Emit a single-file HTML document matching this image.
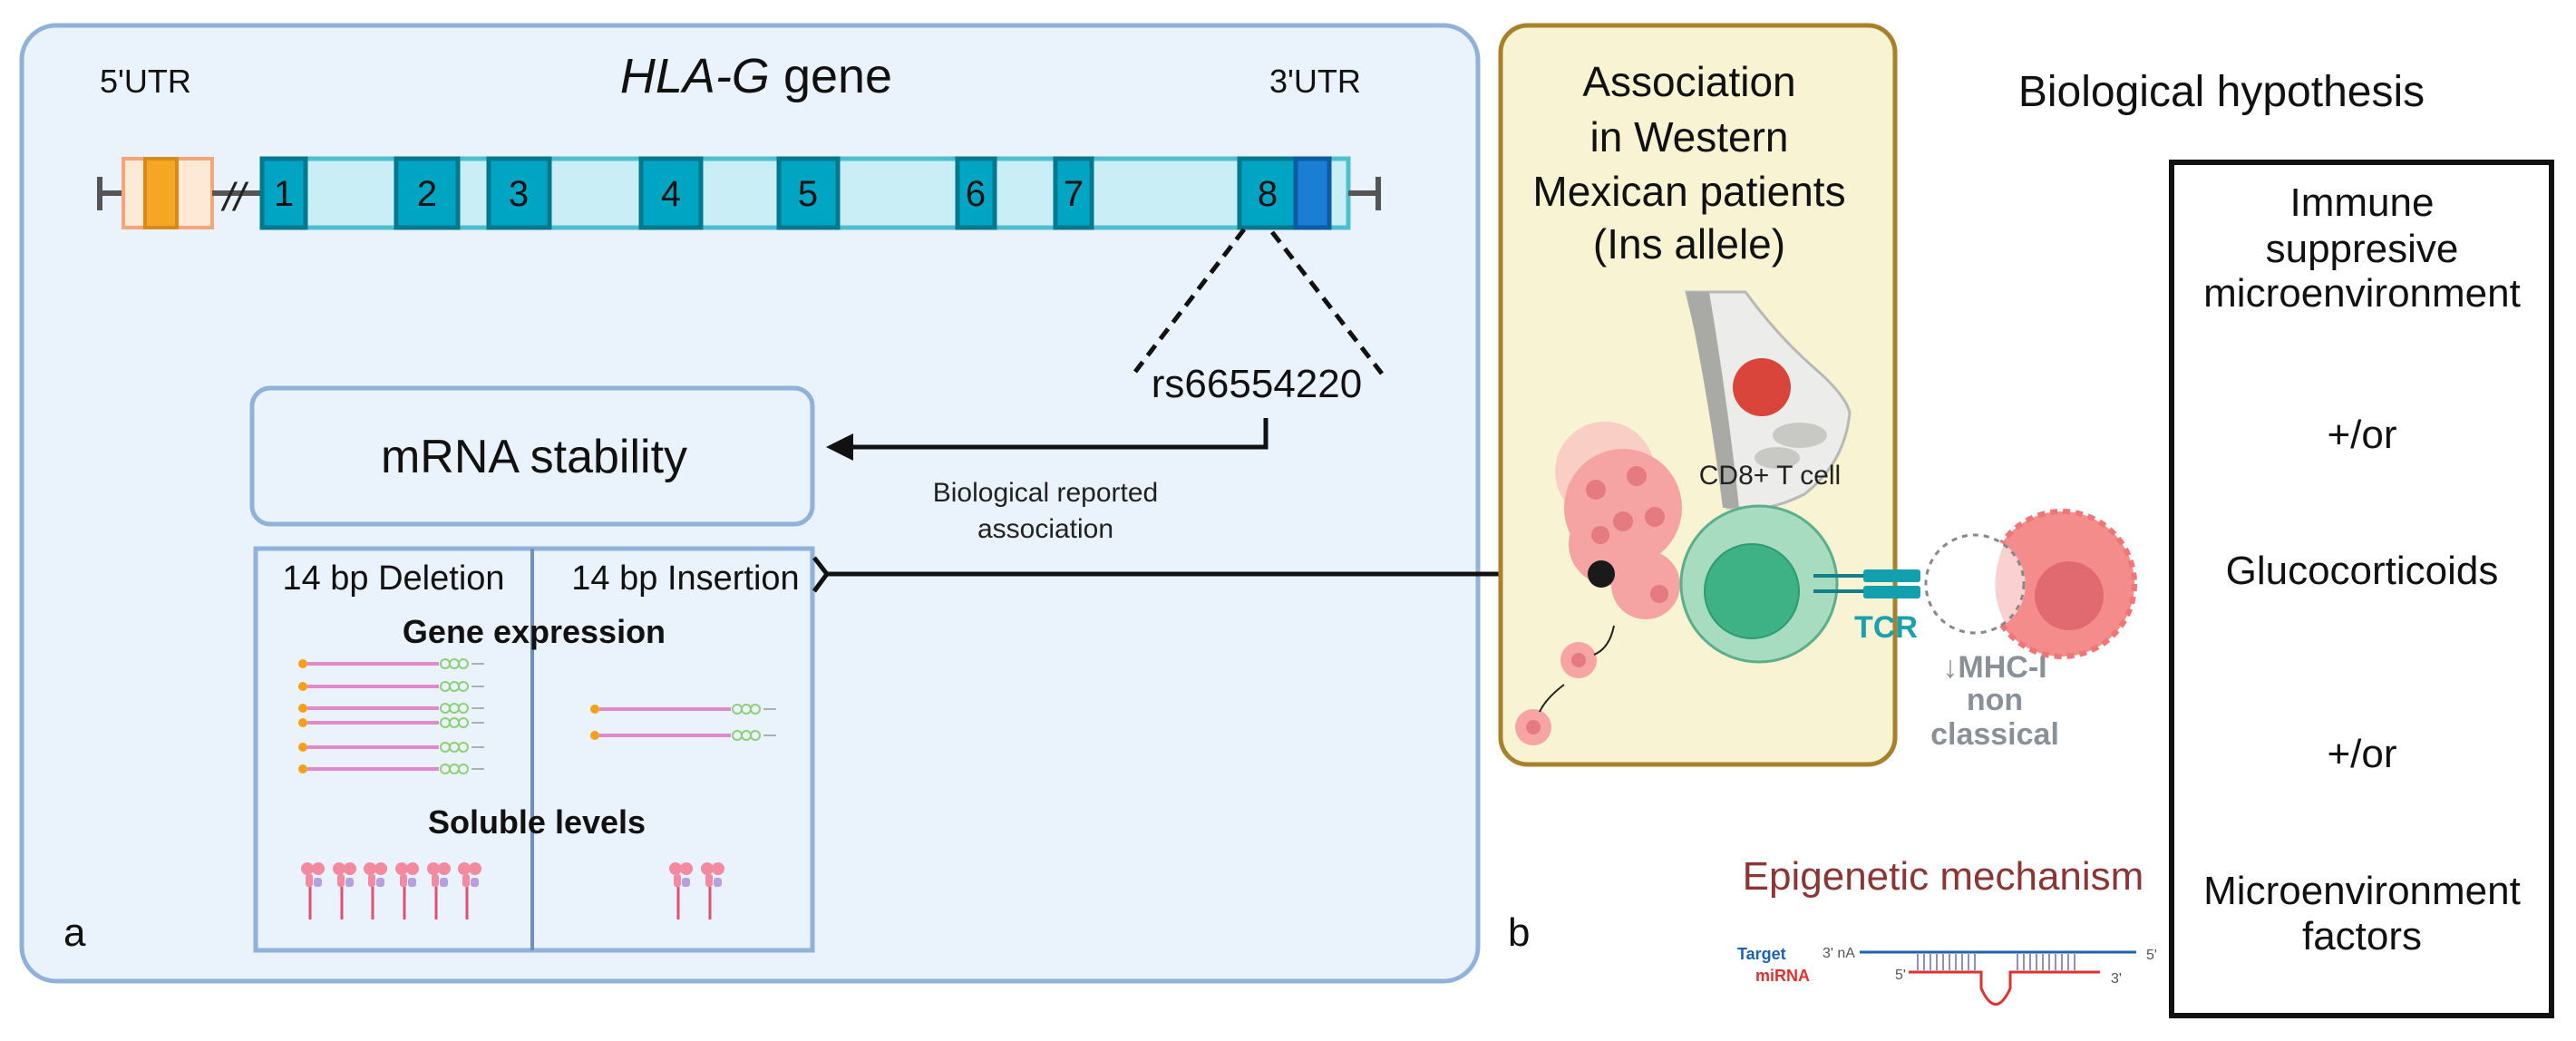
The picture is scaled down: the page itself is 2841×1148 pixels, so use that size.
<!DOCTYPE html>
<html><head><meta charset="utf-8"><style>html,body{margin:0;padding:0;background:#fff}svg{display:block}</style></head>
<body>
<svg xmlns="http://www.w3.org/2000/svg" width="2841" height="1148" viewBox="0 0 2841 1148" font-family="Liberation Sans, sans-serif">
<defs>
<g id="mr">
  <circle cx="0" cy="0" r="5" fill="#f5a01a"/>
  <line x1="5" y1="0" x2="150" y2="0" stroke="#e08acb" stroke-width="4"/>
  <circle cx="157" cy="0" r="5" fill="none" stroke="#8ecf7a" stroke-width="2"/>
  <circle cx="167" cy="0" r="5" fill="none" stroke="#8ecf7a" stroke-width="2"/>
  <circle cx="177" cy="0" r="5" fill="none" stroke="#8ecf7a" stroke-width="2"/>
  <line x1="186" y1="0" x2="200" y2="0" stroke="#999" stroke-width="1.5"/>
</g>
<g id="pr">
  <circle cx="-6" cy="0" r="7" fill="#f28aa0"/>
  <circle cx="6" cy="0" r="7" fill="#f28aa0"/>
  <rect x="-8" y="6" width="8" height="14" rx="3" fill="#f28aa0"/>
  <rect x="1" y="10" width="9" height="10" rx="3" fill="#b8a0e0"/>
  <line x1="-3" y1="20" x2="-3" y2="56" stroke="#e05070" stroke-width="3"/>
</g>
<g id="pc">
  <circle r="20" fill="#f7a4a4"/>
  <circle r="8" fill="#e57a80"/>
</g>
</defs>

<!-- Panel a -->
<rect x="24" y="28" width="1606" height="1054" rx="38" fill="#eaf2fb" stroke="#8fb1da" stroke-width="5"/>
<text x="110" y="102" font-size="36" fill="#111">5'UTR</text>
<text x="834" y="102" font-size="54" text-anchor="middle" fill="#111"><tspan font-style="italic">HLA-G</tspan> gene</text>
<text x="1400" y="102" font-size="36" fill="#111">3'UTR</text>

<!-- gene -->
<line x1="110" y1="213" x2="136" y2="213" stroke="#555" stroke-width="6"/>
<line x1="110" y1="195" x2="110" y2="232" stroke="#555" stroke-width="6"/>
<rect x="136" y="175" width="98" height="76" fill="#fde9d6" stroke="#f6a57b" stroke-width="4"/>
<rect x="160" y="175" width="35" height="76" fill="#f5a623" stroke="#d9881a" stroke-width="4"/>
<line x1="234" y1="213" x2="289" y2="213" stroke="#555" stroke-width="6"/>
<text x="246" y="232" font-size="44" fill="#222" font-style="italic">//</text>
<rect x="289" y="175" width="1198" height="76" fill="#c9eef5" stroke="#4fbfcf" stroke-width="5"/>
<g fill="#00a5c4" stroke="#00798f" stroke-width="5">
<rect x="289" y="175" width="48" height="76"/>
<rect x="437" y="175" width="68" height="76"/>
<rect x="539" y="175" width="67" height="76"/>
<rect x="707" y="175" width="66" height="76"/>
<rect x="859" y="175" width="65" height="76"/>
<rect x="1056" y="175" width="41" height="76"/>
<rect x="1164" y="175" width="40" height="76"/>
<rect x="1367" y="175" width="62" height="76"/>
</g>
<rect x="1429" y="175" width="37" height="76" fill="#1a7fd4" stroke="#0d5ba0" stroke-width="5"/>
<g font-size="40" fill="#111" text-anchor="middle">
<text x="313" y="227">1</text><text x="471" y="227">2</text><text x="572" y="227">3</text>
<text x="740" y="227">4</text><text x="891" y="227">5</text><text x="1076" y="227">6</text>
<text x="1184" y="227">7</text><text x="1398" y="227">8</text>
</g>
<line x1="1487" y1="213" x2="1520" y2="213" stroke="#555" stroke-width="6"/>
<line x1="1520" y1="195" x2="1520" y2="232" stroke="#555" stroke-width="6"/>

<!-- dashed -->
<line x1="1372" y1="253" x2="1252" y2="410" stroke="#111" stroke-width="5" stroke-dasharray="14,9"/>
<line x1="1403" y1="256" x2="1524" y2="412" stroke="#111" stroke-width="5" stroke-dasharray="14,9"/>
<text x="1386" y="438" font-size="44" text-anchor="middle" fill="#111">rs66554220</text>

<!-- arrow to mRNA -->
<polyline points="1396,461 1396,493 935,493" fill="none" stroke="#111" stroke-width="5"/>
<polygon points="911,493 941,478 941,508" fill="#111"/>

<rect x="278" y="428" width="618" height="150" rx="20" fill="#eaf2fb" stroke="#8fb1da" stroke-width="5"/>
<text x="589" y="521" font-size="52" text-anchor="middle" fill="#111">mRNA stability</text>
<text x="1153" y="553" font-size="30" text-anchor="middle" fill="#222">Biological reported</text>
<text x="1153" y="593" font-size="30" text-anchor="middle" fill="#222">association</text>

<!-- bottom box -->
<rect x="282" y="605" width="614" height="443" fill="#eaf2fb" stroke="#8fb1da" stroke-width="5"/>
<line x1="587" y1="605" x2="587" y2="1048" stroke="#6f8fbf" stroke-width="4"/>
<text x="434" y="650" font-size="38" text-anchor="middle" fill="#111">14 bp Deletion</text>
<text x="756" y="650" font-size="38" text-anchor="middle" fill="#111">14 bp Insertion</text>
<polyline points="898,615 912,633 898,652" fill="none" stroke="#111" stroke-width="5"/>
<line x1="912" y1="633" x2="1766" y2="633" stroke="#111" stroke-width="5"/>
<text x="589" y="709" font-size="36" font-weight="bold" text-anchor="middle" fill="#111">Gene expression</text>
<use href="#mr" x="334" y="732"/><use href="#mr" x="334" y="757"/><use href="#mr" x="334" y="781"/>
<use href="#mr" x="334" y="797"/><use href="#mr" x="334" y="824"/><use href="#mr" x="334" y="848"/>
<use href="#mr" x="656" y="782"/><use href="#mr" x="656" y="811"/>
<text x="592" y="919" font-size="36" font-weight="bold" text-anchor="middle" fill="#111">Soluble levels</text>
<use href="#pr" x="345" y="958"/><use href="#pr" x="380" y="958"/><use href="#pr" x="414" y="958"/>
<use href="#pr" x="449" y="958"/><use href="#pr" x="484" y="958"/><use href="#pr" x="518" y="958"/>
<use href="#pr" x="751" y="958"/><use href="#pr" x="786" y="958"/>
<text x="70" y="1043" font-size="44" fill="#111">a</text>

<!-- Panel b yellow -->
<rect x="1655" y="28" width="435" height="815" rx="30" fill="#f7f3d3" stroke="#a8822a" stroke-width="5"/>
<g font-size="46" text-anchor="middle" fill="#111">
<text x="1863" y="106">Association</text>
<text x="1863" y="167">in Western</text>
<text x="1863" y="227">Mexican patients</text>
<text x="1863" y="285">(Ins allele)</text>
</g>
<!-- breast -->
<path d="M1860,322 L1925,322 Q1960,370 2000,405 Q2035,435 2040,455 Q2035,510 1990,545 Q1950,565 1920,560 L1905,560 Q1890,440 1860,322Z" fill="#ececea" stroke="#b8b8b4" stroke-width="3"/>
<path d="M1860,322 L1885,322 Q1905,440 1918,560 L1900,560 Q1885,440 1860,322Z" fill="#a9a9a6"/>
<ellipse cx="1985" cy="480" rx="30" ry="14" fill="#c8c8c4"/>
<ellipse cx="1960" cy="505" rx="25" ry="12" fill="#c8c8c4"/>
<circle cx="1943" cy="427" r="32" fill="#d9453a"/>
<text x="1952" y="534" font-size="30" text-anchor="middle" fill="#222">CD8+ T cell</text>
<!-- cluster -->
<g>
<circle cx="1770" cy="520" r="55" fill="#f9c4c0" opacity="0.8"/>
<circle cx="1790" cy="560" r="65" fill="#f5a3a3"/>
<circle cx="1775" cy="600" r="45" fill="#f5a3a3"/>
<circle cx="1815" cy="645" r="38" fill="#f5a3a3"/>
<circle cx="1760" cy="540" r="11" fill="#e57a80"/><circle cx="1805" cy="525" r="11" fill="#e57a80"/>
<circle cx="1790" cy="575" r="11" fill="#e57a80"/><circle cx="1825" cy="570" r="11" fill="#e57a80"/>
<circle cx="1765" cy="590" r="10" fill="#e57a80"/>
<circle cx="1830" cy="655" r="10" fill="#e57a80"/>
</g>
<use href="#pc" x="1741" y="728"/><use href="#pc" x="1691" y="802"/>
<path d="M1780,690 Q1775,715 1758,722" fill="none" stroke="#222" stroke-width="2"/>
<path d="M1725,755 Q1705,770 1698,785" fill="none" stroke="#222" stroke-width="2"/>
<circle cx="1766" cy="633" r="15" fill="#1a1a1a"/>
<!-- T cell -->
<circle cx="1940" cy="644" r="86" fill="#a8dcc0" stroke="#5cae8a" stroke-width="3"/>
<circle cx="1932" cy="652" r="52" fill="#3fb285" stroke="#2e9a70" stroke-width="2"/>
<line x1="2000" y1="635" x2="2060" y2="635" stroke="#137f8a" stroke-width="4"/>
<line x1="2000" y1="652" x2="2060" y2="652" stroke="#137f8a" stroke-width="4"/>
<rect x="2055" y="628" width="63" height="14" rx="3" fill="#129fae"/>
<rect x="2055" y="646" width="63" height="14" rx="3" fill="#129fae"/>
<text x="2080" y="703" font-size="34" font-weight="bold" text-anchor="middle" fill="#1aa0b0">TCR</text>
<!-- cancer cell -->
<circle cx="2274" cy="644" r="80" fill="#f58c8c" stroke="#ef7676" stroke-width="6" stroke-dasharray="8,6"/>
<circle cx="2178" cy="644" r="54" fill="#ffffff"/>
<path d="M2210,600 A54,54 0 0 1 2212,688 Q2190,650 2210,600Z" fill="#fbd0d0"/>
<circle cx="2178" cy="644" r="54" fill="none" stroke="#888" stroke-width="3" stroke-dasharray="6,6"/>
<circle cx="2282" cy="657" r="38" fill="#e06a70"/>
<g font-size="34" font-weight="bold" text-anchor="middle" fill="#8a9098">
<text x="2200" y="747">↓MHC-I</text><text x="2200" y="783">non</text><text x="2200" y="821">classical</text>
</g>
<text x="1663" y="1043" font-size="44" fill="#111">b</text>

<!-- right -->
<text x="2450" y="117" font-size="48" text-anchor="middle" fill="#111">Biological hypothesis</text>
<rect x="2395" y="179" width="419" height="941" fill="#fff" stroke="#111" stroke-width="6"/>
<g font-size="44" text-anchor="middle" fill="#111">
<text x="2605" y="238">Immune</text><text x="2605" y="289">suppresive</text><text x="2605" y="338">microenvironment</text>
<text x="2605" y="494">+/or</text>
<text x="2605" y="644">Glucocorticoids</text>
<text x="2605" y="846">+/or</text>
<text x="2605" y="997">Microenvironment</text><text x="2605" y="1047">factors</text>
</g>
<text x="2143" y="981" font-size="44" text-anchor="middle" fill="#8b3535">Epigenetic mechanism</text>
<text x="1916" y="1058" font-size="18" font-weight="bold" fill="#1e63b0">Target</text>
<text x="1936" y="1082" font-size="18" font-weight="bold" fill="#e03030">miRNA</text>
<text x="2010" y="1056" font-size="16" fill="#555">3' nA</text>
<line x1="2051" y1="1050" x2="2356" y2="1050" stroke="#1e63b0" stroke-width="3"/>
<text x="2367" y="1058" font-size="16" fill="#555">5'</text>
<text x="2090" y="1080" font-size="16" fill="#555">5'</text>
<text x="2328" y="1084" font-size="16" fill="#555">3'</text>
<path d="M2105,1072 L2185,1072 L2185,1090 Q2201,1125 2217,1090 L2217,1072 L2316,1072" fill="none" stroke="#e03030" stroke-width="3"/>
<g stroke="#9090c0" stroke-width="2">
<path d="M2115,1052V1070M2122,1052V1070M2129,1052V1070M2136,1052V1070M2143,1052V1070M2150,1052V1070M2157,1052V1070M2164,1052V1070M2171,1052V1070M2178,1052V1070"/>
<path d="M2225,1052V1070M2232,1052V1070M2239,1052V1070M2246,1052V1070M2253,1052V1070M2260,1052V1070M2267,1052V1070M2274,1052V1070M2281,1052V1070M2288,1052V1070"/>
</g>
</svg>
</body></html>
